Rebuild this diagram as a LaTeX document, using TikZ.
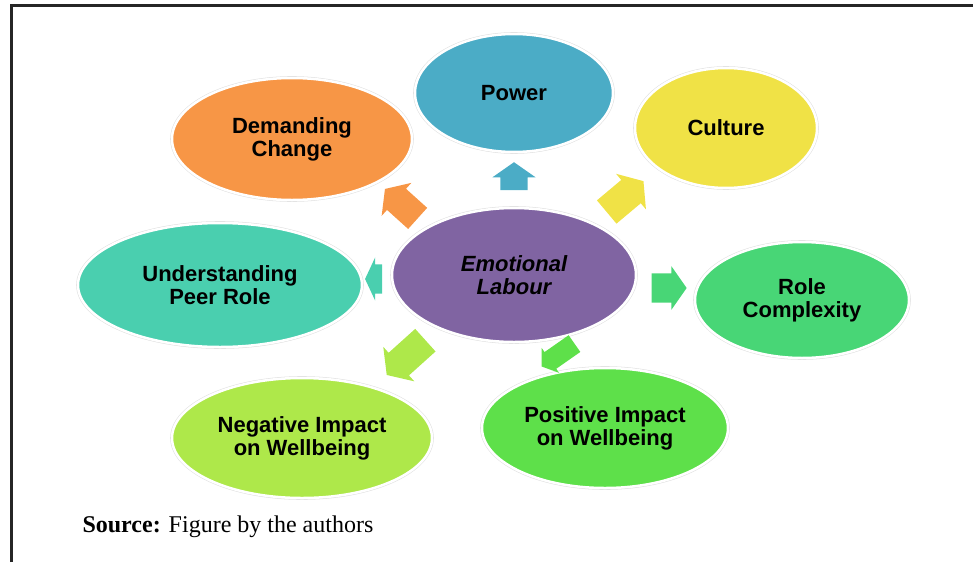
\documentclass[tikz,border=0pt]{standalone}
\usepackage{fontspec}
\setmainfont{Liberation Sans}
\newfontfamily\captionserif{Liberation Serif}
\usetikzlibrary{shapes.geometric,shapes.arrows}
\definecolor{powerblue}{RGB}{75,172,198}
\definecolor{cultureyellow}{RGB}{240,226,70}
\definecolor{changeorange}{RGB}{247,150,70}
\definecolor{peerteal}{RGB}{74,207,175}
\definecolor{labourpurple}{RGB}{128,100,162}
\definecolor{rolegreen}{RGB}{72,214,118}
\definecolor{neglime}{RGB}{174,232,74}
\definecolor{posgreen}{RGB}{94,224,74}
\tikzset{
    bubble/.style = {
        ellipse,
        inner sep = 0pt,
        draw = white,
        line width = 2.5pt,
        preaction = {draw = black!12, line width = 3.6pt},
        align = center,
        font = \fontsize{22}{23}\selectfont\bfseries,
        },
    pointer/.style = {
        single arrow,
        inner xsep = 0pt,
        inner ysep = 14pt,
        single arrow head extend = 7pt,
        single arrow tip angle = 110,
        },
}

\begin{document}
\begin{tikzpicture}[x=1pt, y=-1pt]
    \useasboundingbox (0,0) rectangle (973,562);
    \draw[line width=3pt, black!85] (11.5,562) -- (11.5,5.5) -- (973,5.5);

    \node[bubble, fill=labourpurple, minimum width=244pt, minimum height=134pt,
          font=\fontsize{22}{23}\selectfont\bfseries\itshape] (EL) at (514,275) {Emotional\\Labour};
    \node[bubble, fill=powerblue, minimum width=198pt, minimum height=118pt] (PW) at (514,93) {Power};
    \node[bubble, fill=cultureyellow, minimum width=182pt, minimum height=120pt] (CU) at (726,128) {Culture};
    \node[bubble, fill=changeorange, minimum width=240pt, minimum height=122pt] (DC) at (292,139) {Demanding\\Change};
    \node[bubble, fill=peerteal, minimum width=284pt, minimum height=124pt] (UP) at (220,285) {Understanding\\Peer Role};
    \node[bubble, fill=rolegreen, minimum width=214pt, minimum height=116pt] (RC) at (802,300) {Role\\Complexity};
    \node[bubble, fill=neglime, minimum width=260pt, minimum height=120pt] (NI) at (302,438) {Negative Impact\\on Wellbeing};
    \node[bubble, fill=posgreen, minimum width=246pt, minimum height=120pt] (PI) at (605,428) {Positive Impact\\on Wellbeing};

    % block arrows out of the centre
    \node[pointer, fill=powerblue, minimum height=28pt, inner ysep=13.5pt,
          single arrow head extend=8pt, rotate=90] (toPW) at (514,181) {};
    \node[pointer, fill=cultureyellow, minimum height=48pt, inner ysep=15pt,
          single arrow head extend=8pt, rotate=40] (toCU) at (621,200) {};
    \node[pointer, fill=changeorange, minimum height=44pt, inner ysep=14pt,
          single arrow head extend=8pt, rotate=138] (toDC) at (405,207) {};
    \node[pointer, fill=peerteal, minimum height=17pt, inner ysep=14.5pt,
          single arrow tip angle=130, rotate=180] (toUP) at (377,279) {};
    \node[pointer, fill=rolegreen, minimum height=35pt, inner ysep=14.5pt, rotate=0] (toRC) at (664,288) {};
    \node[pointer, fill=neglime, minimum height=52pt, inner ysep=15pt,
          single arrow head extend=8pt, rotate=222] (toNI) at (410,354) {};
    \node[pointer, fill=posgreen, minimum height=40pt, inner ysep=10pt,
          single arrow head extend=5pt, rotate=215] (toPI) at (561,353) {};

    \node[anchor=west, font=\captionserif\fontsize{24}{24}\selectfont] (src) at (79,527)
        {\textbf{Source:} Figure by the authors};
\end{tikzpicture}
\end{document}
